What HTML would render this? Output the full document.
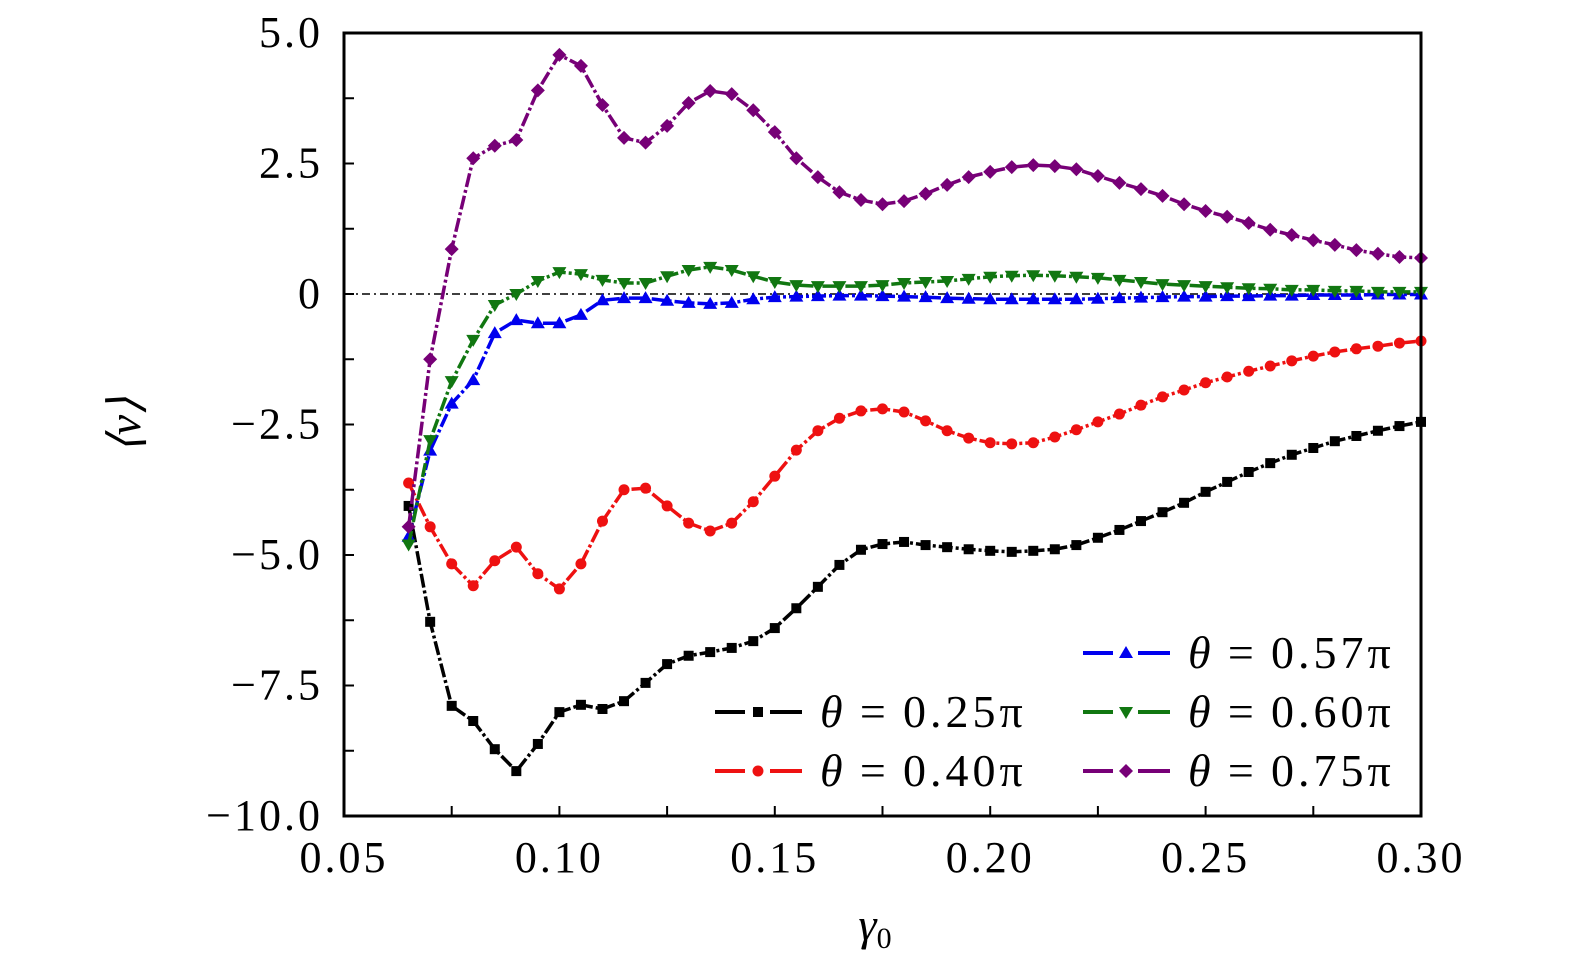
<!DOCTYPE html>
<html><head><meta charset="utf-8"><style>
html,body{margin:0;padding:0;background:#fff;}
svg{display:block;}
text{font-family:"Liberation Serif",serif;fill:#000;}
</style></head><body>
<svg id="chart" width="1575" height="974" viewBox="0 0 1575 974" xmlns="http://www.w3.org/2000/svg"></svg>
<script>
const gammaValues = [0.065,0.07,0.075,0.08,0.085,0.09,0.095,0.1,0.105,0.11,0.115,0.12,0.125,0.13,0.135,0.14,0.145,0.15,0.155,0.16,0.165,0.17,0.175,0.18,0.185,0.19,0.195,0.2,0.205,0.21,0.215,0.22,0.225,0.23,0.235,0.24,0.245,0.25,0.255,0.26,0.265,0.27,0.275,0.28,0.285,0.29,0.295,0.3];
const seriesT025 = [-4.06,-6.28,-7.89,-8.18,-8.72,-9.14,-8.62,-8.01,-7.87,-7.95,-7.8,-7.45,-7.09,-6.93,-6.86,-6.78,-6.65,-6.4,-6.02,-5.61,-5.19,-4.9,-4.79,-4.75,-4.81,-4.85,-4.89,-4.92,-4.94,-4.92,-4.89,-4.81,-4.67,-4.52,-4.35,-4.18,-4.0,-3.79,-3.6,-3.41,-3.24,-3.08,-2.95,-2.82,-2.72,-2.62,-2.53,-2.45];
const seriesT040 = [-3.62,-4.46,-5.17,-5.59,-5.11,-4.85,-5.36,-5.65,-5.17,-4.35,-3.75,-3.72,-4.06,-4.39,-4.54,-4.39,-3.98,-3.49,-2.99,-2.62,-2.38,-2.24,-2.2,-2.26,-2.43,-2.62,-2.76,-2.85,-2.87,-2.85,-2.74,-2.6,-2.45,-2.3,-2.13,-1.97,-1.84,-1.7,-1.59,-1.48,-1.38,-1.28,-1.19,-1.11,-1.05,-1.0,-0.94,-0.9];
const seriesT057 = [-4.65,-3.0,-2.1,-1.65,-0.75,-0.5,-0.56,-0.56,-0.4,-0.12,-0.08,-0.08,-0.13,-0.17,-0.19,-0.17,-0.1,-0.06,-0.05,-0.04,-0.03,-0.03,-0.04,-0.05,-0.06,-0.08,-0.09,-0.1,-0.1,-0.1,-0.1,-0.1,-0.09,-0.08,-0.07,-0.06,-0.05,-0.05,-0.04,-0.04,-0.03,-0.03,-0.02,-0.02,-0.02,-0.01,-0.01,-0.01];
const seriesT060 = [-4.8,-2.8,-1.67,-0.88,-0.21,0.0,0.25,0.42,0.38,0.27,0.21,0.21,0.34,0.46,0.52,0.46,0.34,0.23,0.17,0.15,0.15,0.15,0.17,0.21,0.23,0.25,0.29,0.33,0.35,0.36,0.35,0.33,0.31,0.27,0.23,0.19,0.17,0.15,0.13,0.11,0.1,0.08,0.08,0.06,0.06,0.04,0.04,0.04];
const seriesT075 = [-4.46,-1.25,0.86,2.6,2.84,2.95,3.9,4.58,4.37,3.62,2.99,2.9,3.22,3.66,3.89,3.83,3.52,3.1,2.6,2.24,1.95,1.8,1.72,1.78,1.92,2.09,2.24,2.34,2.43,2.47,2.45,2.39,2.26,2.13,2.01,1.88,1.72,1.59,1.48,1.36,1.23,1.13,1.03,0.94,0.84,0.77,0.71,0.69];
const xTickLabels = ["0.05","0.10","0.15","0.20","0.25","0.30"];
const xTickValues = [0.05,0.10,0.15,0.20,0.25,0.30];
const yTickLabels = ["5.0","2.5","0","\u22122.5","\u22125.0","\u22127.5","\u221210.0"];
const yTickValues = [5,2.5,0,-2.5,-5,-7.5,-10];
const legendLabels = ["\u03b8 = 0.25\u03c0","\u03b8 = 0.40\u03c0","\u03b8 = 0.57\u03c0","\u03b8 = 0.60\u03c0","\u03b8 = 0.75\u03c0"];

const L=344,R=1421,T=33,B=816;
const X0=0.05,X1=0.30,Y0=-10,Y1=5;
function sx(v){return L+(v-X0)/(X1-X0)*(R-L);}
function sy(v){return B-(v-Y0)/(Y1-Y0)*(B-T);}
const NS="http://www.w3.org/2000/svg";
const svg=document.getElementById('chart');
function mk(tag,attrs,parent){const e=document.createElementNS(NS,tag);for(const k in attrs)e.setAttribute(k,attrs[k]);(parent||svg).appendChild(e);return e;}

const zl=mk('line',{x1:L,x2:R,y1:sy(0),y2:sy(0),stroke:'#000','stroke-width':1.5,'stroke-dasharray':'8,4,2,4'});



function marker(type,x,y,color,g){
  let e;
  if(type==='square') e=mk('rect',{x:x-5,y:y-5,width:10,height:10,fill:color},g);
  else if(type==='circle') e=mk('circle',{cx:x,cy:y,r:5.5,fill:color},g);
  else if(type==='up') e=mk('polygon',{points:`${x},${y-7} ${x-7},${y+5} ${x+7},${y+5}`,fill:color},g);
  else if(type==='down') e=mk('polygon',{points:`${x},${y+7} ${x-7},${y-5} ${x+7},${y-5}`,fill:color},g);
  else e=mk('polygon',{points:`${x},${y-7} ${x+7},${y} ${x},${y+7} ${x-7},${y}`,fill:color},g);
  
  
}
const seriesList=[
 {d:seriesT025,c:'#000000',m:'square',n:'series-theta-0.25pi'},
 {d:seriesT040,c:'#ee1111',m:'circle',n:'series-theta-0.40pi'},
 {d:seriesT057,c:'#0000ee',m:'up',n:'series-theta-0.57pi'},
 {d:seriesT060,c:'#117711',m:'down',n:'series-theta-0.60pi'},
 {d:seriesT075,c:'#770077',m:'diamond',n:'series-theta-0.75pi'}];
seriesList.forEach(s=>{
  const g=mk('g',{});
  
  
  const pts=s.d.map((v,i)=>sx(gammaValues[i])+','+sy(v)).join(' ');
  const pl=mk('polyline',{points:pts,fill:'none',stroke:s.c,'stroke-width':3.5,'stroke-dasharray':'14,3,3,3','stroke-linejoin':'round'},g);
  
  
  s.d.forEach((v,i)=>marker(s.m,sx(gammaValues[i]),sy(v),s.c,g));
});

const fr=mk('rect',{x:L,y:T,width:R-L,height:B-T,fill:'none',stroke:'#000','stroke-width':3});


for(let v=-10;v<=5.001;v+=1.25){
  const t=mk('line',{x1:L,x2:L+10,y1:sy(v),y2:sy(v),stroke:'#000','stroke-width':2});
  
  
}
for(let v=0.05;v<=0.3001;v+=0.025){
  const t=mk('line',{x1:sx(v),x2:sx(v),y1:B,y2:B-10,stroke:'#000','stroke-width':2});
  
  
}
yTickLabels.forEach((lab,i)=>{
  const t=mk('text',{x:323,y:sy(yTickValues[i])+14,'text-anchor':'end','font-size':44,'letter-spacing':3});
  t.textContent=lab;
  
  
});
xTickLabels.forEach((lab,i)=>{
  const t=mk('text',{x:sx(xTickValues[i]),y:872,'text-anchor':'middle','font-size':44,'letter-spacing':3});
  t.textContent=lab;
  
  
});
const yt=mk('text',{x:0,y:0,'text-anchor':'middle','font-size':46,transform:'translate(140,425) rotate(-90)'});
yt.textContent='\u27e8v\u27e9';
yt.setAttribute('font-style','italic');


const xt=mk('text',{x:875,y:940,'text-anchor':'middle','font-size':46,'font-style':'italic'});
xt.textContent='\u03b3';
const sub=mk('tspan',{'font-size':30,dy:8,'font-style':'normal'},xt);
sub.textContent='0';



const legPos=[[715,712],[715,771],[1083,653],[1083,712],[1083,771]];
seriesList.forEach((s,i)=>{
  const [lx,ly]=legPos[i];
  const g=mk('g',{});
  
  
  mk('line',{x1:lx,x2:lx+30,y1:ly,y2:ly,stroke:s.c,'stroke-width':4},g);
  mk('line',{x1:lx+55,x2:lx+87,y1:ly,y2:ly,stroke:s.c,'stroke-width':4},g);
  marker(s.m,lx+43,ly,s.c,g);
  const t=mk('text',{x:lx+105,y:ly+15,'font-size':46,'letter-spacing':4},g);
  const th=mk('tspan',{'font-style':'italic'},t); th.textContent='\u03b8';
  const eq=mk('tspan',{},t); eq.textContent='\u2009=\u2009';
  const rest=mk('tspan',{},t); rest.textContent=legendLabels[i].slice(4);
});
</script>
</body></html>
